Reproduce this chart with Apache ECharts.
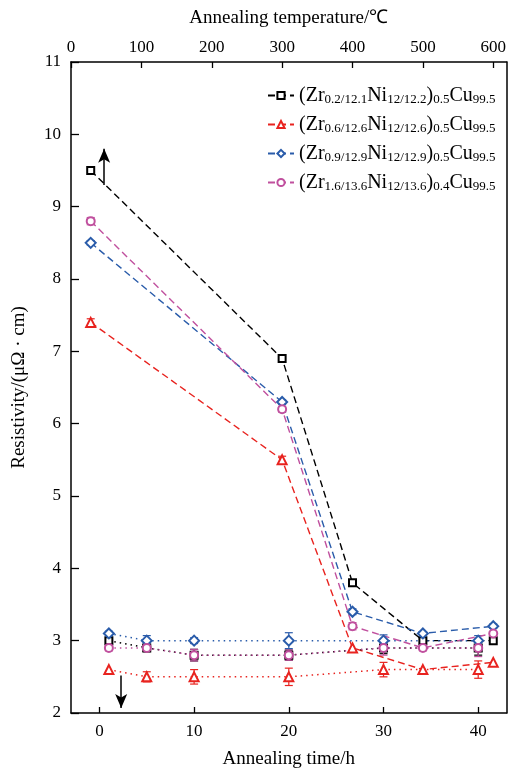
<!DOCTYPE html>
<html>
<head>
<meta charset="utf-8">
<script src="https://cdn.jsdelivr.net/npm/echarts@6/dist/echarts.min.js"></script>
<style>
  html, body { margin: 0; padding: 0; background: #fff; }
  #chart { width: 509px; height: 774px; }
</style>
</head>
<body>
<div id="chart"></div>
<script>
'use strict';

// annealing temperature series (top axis, dashed)
var temps = [28, 300, 400, 500, 600];
var tBlack = [9.5, 6.9, 3.8, 3.0, 3.0];
var tRed = [7.4, 5.5, 2.9, 2.6, 2.7];
var tBlue = [8.5, 6.3, 3.4, 3.1, 3.2];
var tPink = [8.8, 6.2, 3.2, 2.9, 3.1];
var tRedErr = [0.05, 0.05, 0, 0, 0];
var tBlueErr = [0.03, 0.03, 0.04, 0, 0.03];
var tPinkErr = [0.05, 0.04, 0.05, 0.04, 0];

// annealing time series (bottom axis, dotted)
var times = [1, 5, 10, 20, 30, 40];
var hBlack = [3.0, 2.9, 2.8, 2.8, 2.9, 2.9];
var hRed = [2.6, 2.5, 2.5, 2.5, 2.6, 2.6];
var hBlue = [3.1, 3.0, 3.0, 3.0, 3.0, 3.0];
var hPink = [2.9, 2.9, 2.8, 2.8, 2.9, 2.9];
var hBlackErr = [0, 0.05, 0.08, 0.07, 0.08, 0.1];
var hRedErr = [0, 0.07, 0.1, 0.12, 0.1, 0.12];
var hBlueErr = [0.03, 0.07, 0.04, 0.11, 0.08, 0.07];
var hPinkErr = [0.04, 0.05, 0.08, 0.07, 0.1, 0.12];

var timeTicks = [0, 10, 20, 30, 40];
var tempTicks = [0, 100, 200, 300, 400, 500, 600];

var names = ['A', 'B', 'C', 'D'];
var labels = {
  A: '(Zr{s|0.2/12.1}Ni{s|12/12.2}){s|0.5}Cu{s|99.5}',
  B: '(Zr{s|0.6/12.6}Ni{s|12/12.6}){s|0.5}Cu{s|99.5}',
  C: '(Zr{s|0.9/12.9}Ni{s|12/12.9}){s|0.5}Cu{s|99.5}',
  D: '(Zr{s|1.6/13.6}Ni{s|12/13.6}){s|0.4}Cu{s|99.5}'
};
var colors = ['#000000', '#e8231f', '#2a5caa', '#c0509e'];
var symbols = ['emptyRect', 'emptyTriangle', 'emptyDiamond', 'emptyCircle'];
var sizes = [7, 9, 10, 8];

var font = 'Liberation Serif';

function pairs(xs, ys) {
  return xs.map(function (x, i) { return [x, ys[i]]; });
}
function triples(xs, ys, es) {
  return xs.map(function (x, i) { return [x, ys[i], es[i]]; });
}

function errBars(color) {
  return function (params, api) {
    var x = api.value(0), y = api.value(1), e = api.value(2);
    if (!e) return null;
    var hi = api.coord([x, y + e]);
    var lo = api.coord([x, y - e]);
    var w = 4;
    var st = { stroke: color, lineWidth: 1.2 };
    return {
      type: 'group',
      children: [
        { type: 'line', shape: { x1: hi[0], y1: hi[1], x2: lo[0], y2: lo[1] }, style: st },
        { type: 'line', shape: { x1: hi[0] - w, y1: hi[1], x2: hi[0] + w, y2: hi[1] }, style: st },
        { type: 'line', shape: { x1: lo[0] - w, y1: lo[1], x2: lo[0] + w, y2: lo[1] }, style: st }
      ]
    };
  };
}

var tempData = [tBlack, tRed, tBlue, tPink];
var timeData = [hBlack, hRed, hBlue, hPink];
var tempErr = [null, tRedErr, tBlueErr, tPinkErr];
var timeErr = [hBlackErr, hRedErr, hBlueErr, hPinkErr];

var series = [];
names.forEach(function (n, i) {
  series.push({
    name: n, type: 'line', xAxisIndex: 1,
    data: pairs(temps, tempData[i]),
    symbol: symbols[i], symbolSize: sizes[i],
    itemStyle: { color: colors[i], borderWidth: 1.2 },
    lineStyle: { color: colors[i], width: 1.4, type: [7, 4] },
    z: 3
  });
});
names.forEach(function (n, i) {
  var s = {
    name: n, type: 'line', xAxisIndex: 0,
    data: pairs(times, timeData[i]),
    symbol: symbols[i], symbolSize: sizes[i],
    itemStyle: { color: colors[i], borderWidth: 1.2 },
    lineStyle: { color: colors[i], width: 1.5, type: [1.5, 4] },
    z: 3
  };
  if (i === 0) {
    s.markLine = {
      silent: true,
      symbol: ['none', 'arrow'],
      symbolSize: [9, 14],
      label: { show: false },
      lineStyle: { color: '#000', width: 1.5, type: 'solid' },
      data: [
        [{ coord: [0.5, 9.3] }, { coord: [0.5, 9.8] }],
        [{ coord: [2.3, 2.52] }, { coord: [2.3, 2.07] }]
      ]
    };
  }
  series.push(s);
});
names.forEach(function (n, i) {
  if (tempErr[i]) {
    series.push({
      name: n, type: 'custom', xAxisIndex: 1,
      renderItem: errBars(colors[i]),
      data: triples(temps, tempData[i], tempErr[i]), z: 2
    });
  }
  series.push({
    name: n, type: 'custom', xAxisIndex: 0,
    renderItem: errBars(colors[i]),
    data: triples(times, timeData[i], timeErr[i]), z: 2
  });
});

var axisLine = { show: true, onZero: false, lineStyle: { color: '#000', width: 1.5 } };
var labelStyle = { color: '#000', fontFamily: font, fontSize: 17 };

var chart = echarts.init(document.getElementById('chart'));
chart.setOption({
  animation: false,
  textStyle: { fontFamily: font },
  grid: { left: 71, right: 2, top: 62, bottom: 56 },
  legend: {
    data: names,
    orient: 'vertical',
    left: 262, top: 79,
    itemWidth: 26, itemHeight: 9, itemGap: 7,
    formatter: function (n) { return labels[n]; },
    textStyle: {
      color: '#000', fontFamily: font, fontSize: 20, lineHeight: 21,
      rich: {
        s: { fontFamily: font, fontSize: 13, verticalAlign: 'bottom', lineHeight: 21, padding: [9, 0, 0, 0] }
      }
    }
  },
  xAxis: [{
    type: 'value', position: 'bottom', min: -3, max: 43,
    name: 'Annealing time/h', nameLocation: 'middle', nameGap: 37,
    nameTextStyle: { color: '#000', fontFamily: font, fontSize: 19 },
    axisLine: axisLine,
    axisTick: { inside: true, length: 6, customValues: timeTicks, lineStyle: { color: '#000', width: 1.3 } },
    axisLabel: Object.assign({ customValues: timeTicks, margin: 10 }, labelStyle),
    splitLine: { show: false }
  }, {
    type: 'value', position: 'top', min: 0, max: 619,
    name: 'Annealing temperature/℃', nameLocation: 'middle', nameGap: 34,
    nameTextStyle: { color: '#000', fontFamily: font, fontSize: 19 },
    axisLine: axisLine,
    axisTick: { inside: true, length: 6, customValues: tempTicks, lineStyle: { color: '#000', width: 1.3 } },
    axisLabel: Object.assign({ customValues: tempTicks, margin: 6 }, labelStyle),
    splitLine: { show: false }
  }],
  yAxis: [{
    type: 'value', min: 2, max: 11, interval: 1, position: 'left',
    name: 'Resistivity/(μΩ · cm)', nameLocation: 'middle', nameGap: 42,
    nameTextStyle: { color: '#000', fontFamily: font, fontSize: 19 },
    axisLine: axisLine,
    axisTick: { inside: true, length: 8, lineStyle: { color: '#000', width: 1.3 } },
    axisLabel: Object.assign({ margin: 10 }, labelStyle),
    splitLine: { show: false }
  }, {
    type: 'value', min: 2, max: 11, interval: 1, position: 'right',
    axisLine: axisLine, axisTick: { show: false }, axisLabel: { show: false },
    splitLine: { show: false }
  }],
  series: series
});
</script>
</body>
</html>
